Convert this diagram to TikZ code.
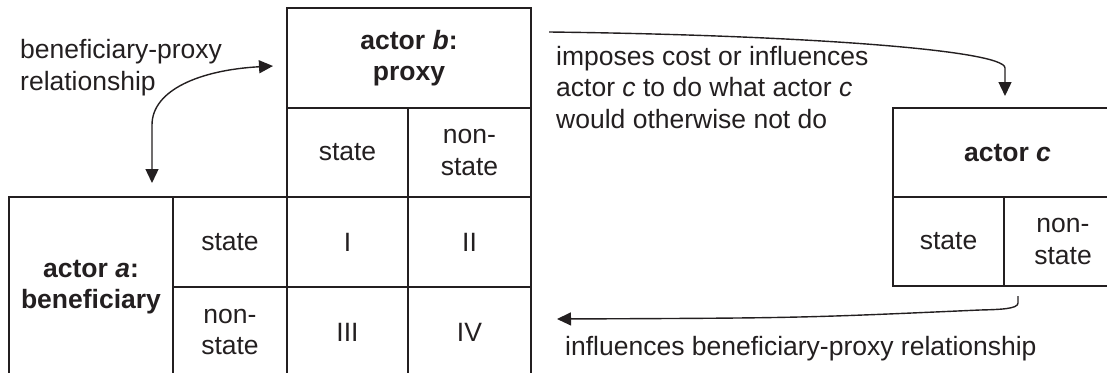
\documentclass[tikz,border=0pt]{standalone}
\usepackage{fontspec}
\setmainfont{Liberation Sans}
\usetikzlibrary{arrows.meta}
\definecolor{ink}{RGB}{35,31,32}
\begin{document}
\begin{tikzpicture}[x=1pt,y=-1pt,
  every node/.style={font=\fontsize{26.5}{31.5}\selectfont, text=ink},
  cell/.style={draw=ink, line width=1.6pt, anchor=north west, inner sep=0pt, outer sep=0pt, align=center},
  conn/.style={draw=ink, line width=1.4pt},
  tip/.style={-{Triangle[length=14pt,width=13pt]}},
  bothtips/.style={{Triangle[length=14pt,width=13pt]}-{Triangle[length=14pt,width=13pt]}},
  lbl/.style={align=left, inner sep=0pt, anchor=base west}]
\useasboundingbox (0,0) rectangle (1107,372);
\clip (0,0) rectangle (1107,372);

% actor b: proxy
\node[cell, minimum width=244pt, minimum height=100pt] (bhead) at (287,8) {\textbf{actor \textit{b}:}\\\textbf{proxy}};
\node[cell, minimum width=121pt, minimum height=89pt] (bst) at (287,108) {state};
\node[cell, minimum width=123pt, minimum height=89pt] (bns) at (408,108) {non-\\state};

% actor a: beneficiary
\node[cell, minimum width=164pt, minimum height=180pt] (ahead) at (9,197) {\textbf{actor \textit{a}:}\\\textbf{beneficiary}};
\node[cell, minimum width=114pt, minimum height=90pt] (ast) at (173,197) {state};
\node[cell, minimum width=114pt, minimum height=90pt] (ans) at (173,287) {non-\\state};

% quadrants
\node[cell, minimum width=121pt, minimum height=90pt] (q1) at (287,197) {I};
\node[cell, minimum width=123pt, minimum height=90pt] (q2) at (408,197) {II};
\node[cell, minimum width=121pt, minimum height=90pt] (q3) at (287,287) {III};
\node[cell, minimum width=123pt, minimum height=90pt] (q4) at (408,287) {IV};

% actor c
\node[cell, minimum width=229pt, minimum height=89pt] (chead) at (893,108) {\textbf{actor \textit{c}}};
\node[cell, minimum width=111pt, minimum height=89pt] (cst) at (893,197) {state};
\node[cell, minimum width=118pt, minimum height=89pt] (cns) at (1004,197) {non-\\state};

% labels (base anchor = baseline of the last line)
\node[lbl] (t1) at (20,90) {beneficiary-proxy\\relationship};
\node[lbl] (t2) at (556,128) {imposes cost or influences\\actor \textit{c} to do what actor \textit{c}\\would otherwise not do};
\node[lbl] (t3) at (565,355) {influences beneficiary-proxy relationship};

% connectors
\coordinate (a1s) at (152,183);
\coordinate (a1e) at (273,66);
\draw[conn, bothtips] (a1s) -- (152,125) .. controls (152,90) and (200,70) .. (a1e);

\coordinate (a2s) at (549,32);
\coordinate (a2e) at (1005,96);
\draw[conn, tip] (a2s) .. controls (800,35) and (1005,50) .. (1005,68) -- (a2e);

\coordinate (a3s) at (1018,296);
\coordinate (a3e) at (557,319);
\draw[conn, tip] (a3s) -- (1018,303) .. controls (1018,309) and (1000,309.5) .. (980,310) .. controls (800,318) .. (a3e);
\end{tikzpicture}
\end{document}
